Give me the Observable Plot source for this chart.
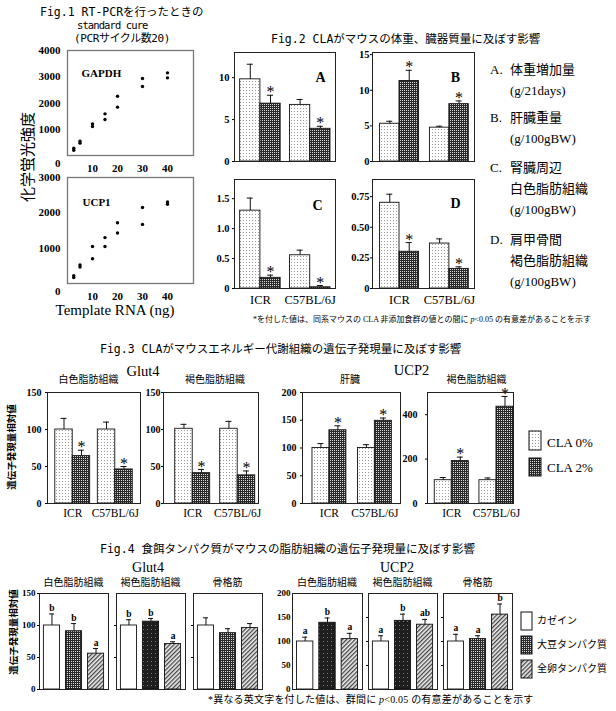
<!DOCTYPE html>
<html lang="ja">
<head>
<meta charset="utf-8">
<script src="https://cdn.jsdelivr.net/npm/d3@7"></script>
<script src="https://cdn.jsdelivr.net/npm/@observablehq/plot@0.6"></script>
<style>
html,body{margin:0;padding:0;background:#fff;}
#root{position:relative;width:616px;height:711px;overflow:hidden;background:#fff;color:#000;}
.t{position:absolute;white-space:nowrap;line-height:1;color:#000;}
</style>
</head>
<body>
<svg width="0" height="0" style="position:absolute;left:0;top:0">
<defs>
 <pattern id="pDot" width="3" height="3" patternUnits="userSpaceOnUse">
   <rect width="3" height="3" fill="#fff"/>
   <rect x="1" y="1" width="1" height="1" fill="#9a9a9a"/>
 </pattern>
 <pattern id="pCross" width="2" height="2" patternUnits="userSpaceOnUse">
   <rect width="2" height="2" fill="#2a2a2a"/>
   <rect width="1" height="1" fill="#d8d8d8"/>
 </pattern>
 <pattern id="pDark" width="4" height="4" patternUnits="userSpaceOnUse">
   <rect width="4" height="4" fill="#1e1e1e"/>
   <rect x="1" y="2" width="1" height="1" fill="#777"/>
 </pattern>
 <pattern id="pHatch" width="3" height="3" patternUnits="userSpaceOnUse" patternTransform="rotate(45)">
   <rect width="3" height="3" fill="#eee"/>
   <rect width="1.3" height="3" fill="#444"/>
 </pattern>
</defs>
</svg>
<div id="root"></div>
<script>
// ================= DATA =================
// Fig.1 standard curves
const rnaNg       = [2.5, 2.5, 5, 5, 10, 10, 15, 15, 20, 20, 30, 30, 40, 40];
const gapdhSignal = [280, 200, 546, 470, 1206, 1105, 1587, 1371, 2260, 1841, 2933, 2629, 3149, 2959];
const ucp1Signal  = [224, 168, 523, 467, 1047, 701, 1299, 1047, 1720, 1430, 2150, 1673, 2308, 2243];
const rnaTicks   = [10, 20, 30, 40];
const gapdhTicks = [1000, 2000, 3000, 4000];
const ucp1Ticks  = [1000, 2000, 3000];

// Fig.2 body / organ weights
const strains = ["ICR", "C57BL/6J"];
const gainCLA0 = [9.8, 6.75], gainCLA0Err = [1.8, 0.65], gainCLA2 = [6.9, 3.9], gainCLA2Err = [1.0, 0.3];
const liverCLA0 = [5.3, 4.75], liverCLA0Err = [0.35, 0.2], liverCLA2 = [11.3, 8.05], liverCLA2Err = [1.5, 0.45];
const renalCLA0 = [1.3, 0.555], renalCLA0Err = [0.21, 0.085], renalCLA2 = [0.178, 0.02], renalCLA2Err = [0.045, 0.03];
const scapCLA0 = [0.70, 0.367], scapCLA0Err = [0.07, 0.038], scapCLA2 = [0.30, 0.16], scapCLA2Err = [0.075, 0.017];
const gainTicks = [0, 5, 10], liverTicks = [0, 5, 10, 15], renalTicks = [0, 0.5, 1, 1.5], scapTicks = [0, 0.25, 0.5, 0.75];

// Fig.3 gene expression with CLA
const glut4WatCLA0 = [100, 100], glut4WatCLA0Err = [15, 10], glut4WatCLA2 = [64, 46], glut4WatCLA2Err = [8, 4];
const glut4BatCLA0 = [101, 101], glut4BatCLA0Err = [6, 10], glut4BatCLA2 = [41, 38], glut4BatCLA2Err = [5, 6];
const ucp2LivCLA0 = [100, 100], ucp2LivCLA0Err = [8, 6], ucp2LivCLA2 = [132, 149], ucp2LivCLA2Err = [8, 5];
const ucp2BatCLA0 = [105, 105], ucp2BatCLA0Err = [12, 10], ucp2BatCLA2 = [191, 436], ucp2BatCLA2Err = [18, 46];
const ticks150 = [0, 50, 100, 150], ticks200 = [0, 50, 100, 150, 200], ticks400 = [0, 200, 400];

// Fig.4 gene expression with dietary protein
const diets = ["カゼイン", "大豆タンパク質", "全卵タンパク質"];
const g4Wat = [100, 91, 56],  g4WatErr = [18, 12, 8],  g4WatSig = ["b", "b", "a"];
const g4Bat = [100, 106, 71], g4BatErr = [9, 5, 3.5],  g4BatSig = ["b", "b", "a"];
const g4Mus = [100, 88, 96],  g4MusErr = [12, 7, 7],   g4MusSig = ["", "", ""];
const u2Wat = [100, 139, 105], u2WatErr = [9, 10, 12], u2WatSig = ["a", "b", "a"];
const u2Bat = [100, 143, 135], u2BatErr = [12, 14, 11], u2BatSig = ["a", "b", "ab"];
const u2Mus = [100, 105, 156], u2MusErr = [15, 7, 22], u2MusSig = ["a", "a", "b"];
const fig4Ticks150 = [0, 50, 100, 150], fig4Ticks200 = [0, 50, 100, 150, 200];

// ================= HELPERS =================
const SERIF = '"Liberation Serif","Times New Roman","Noto Sans CJK JP",serif';
const MONO = '"DejaVu Sans Mono","Noto Sans CJK JP",monospace';
const root = document.getElementById("root");

function txt(html, x, y, o = {}) {
  const el = document.createElement("div");
  el.className = "t";
  el.innerHTML = html;
  const ax = o.anchor === "middle" ? "-50%" : o.anchor === "end" ? "-100%" : "0";
  el.style.left = x + "px";
  el.style.top = y + "px";
  el.style.fontFamily = o.font || SERIF;
  el.style.fontSize = (o.size || 12) + "px";
  el.style.fontWeight = o.weight || "normal";
  if (o.ls) el.style.letterSpacing = o.ls + "px";
  el.style.transform = `translate(${ax},-50%)` + (o.rotate ? ` rotate(${o.rotate}deg)` : "");
  root.appendChild(el);
}
function place(svg, left, top) {
  svg.style.position = "absolute";
  svg.style.left = left + "px";
  svg.style.top = top + "px";
  root.appendChild(svg);
}
function pstyle(size) {
  return {background: "none", overflow: "visible", fontFamily: SERIF, fontSize: size + "px", color: "#000"};
}
function fontAxes(svg, ySize, xSize, xBold) {
  const s = d3.select(svg);
  s.selectAll('[aria-label^="y-axis"] text').style("font-family", SERIF).style("font-weight", "bold").style("font-size", ySize + "px").style("fill", "#000");
  s.selectAll('[aria-label^="x-axis"] text').style("font-family", SERIF).style("font-weight", xBold ? "bold" : "normal").style("font-size", xSize + "px").style("fill", "#000");
}
function swatch(x, y, w, h, fill) {
  const s = d3.create("svg").attr("width", w + 2).attr("height", h + 2)
    .style("position", "absolute").style("left", (x - 1) + "px").style("top", (y - 1) + "px");
  s.append("rect").attr("x", 1).attr("y", 1).attr("width", w).attr("height", h)
    .attr("fill", fill).attr("stroke", "#111").attr("stroke-width", 1);
  root.appendChild(s.node());
}

// ---- Fig.1 scatter panel (tick labels drawn as text marks through the scales)
function scatter(frame, ys, yDomain, yTicks, name, nameDx, nameDy) {
  const [x0, y0, x1, y1] = frame, W = x1 - x0, H = y1 - y0;
  const ML = 40, MR = 6, MT = 6, MB = 22;
  const data = rnaNg.map((x, i) => ({x, y: ys[i]}));
  const bold = {fontWeight: "bold", fontSize: 11, fontFamily: SERIF, fill: "#000"};
  const svg = Plot.plot({
    width: ML + W + MR, height: MT + H + MB,
    marginLeft: ML, marginRight: MR, marginTop: MT, marginBottom: MB,
    style: pstyle(11),
    x: {domain: [0, 50.4], axis: null},
    y: {domain: yDomain, axis: null},
    marks: [
      Plot.frame({stroke: "#777", strokeWidth: 1.3}),
      Plot.dot(data, {x: "x", y: "y", r: 1.7, fill: "#000", stroke: "none"}),
      Plot.text(yTicks, {x: () => 0, y: d => d, text: d => String(d), textAnchor: "end", dx: -7, ...bold}),
      Plot.text(rnaTicks, {x: d => d, y: () => yDomain[0], text: d => String(d), dy: 13, ...bold}),
      Plot.text(["0"], {x: () => 0, y: () => yDomain[0], text: d => d, textAnchor: "end", dx: -7, dy: 8, ...bold}),
      Plot.text([name], {frameAnchor: "top-left", text: d => d, textAnchor: "start", dx: nameDx, dy: nameDy, ...bold})
    ]
  });
  place(svg, x0 - ML, y0 - MT);
}

// ---- Fig.2 / Fig.3 panel: two strains x (CLA 0%, CLA 2%)
function claPanel(o) {
  const [x0, y0, x1, y1] = o.frame, W = x1 - x0, H = y1 - y0;
  const ML = 34, MR = 6, MT = 14, MB = 22;
  const [p, q, al] = o.pad;
  const rows = strains.map((s, i) => ({s, v0: o.v0[i], e0: o.e0[i], v2: o.v2[i], e2: o.e2[i]}));
  const bw = d3.scaleBand().domain(strains).range([0, W]).paddingInner(p).paddingOuter(q).align(al).bandwidth();
  const hb = bw / 2, cap = 3;
  const marks = [
    Plot.barY(rows, {x: "s", y: "v0", fill: "url(#pDot)", stroke: "#111", strokeWidth: 0.9, insetRight: hb}),
    Plot.barY(rows, {x: "s", y: "v2", fill: "url(#pCross)", stroke: "#111", strokeWidth: 0.9, insetLeft: hb}),
    Plot.ruleX(rows, {x: "s", y1: "v0", y2: d => d.v0 + d.e0, dx: -hb / 2, stroke: "#111"}),
    Plot.ruleX(rows, {x: "s", y1: "v2", y2: d => d.v2 + d.e2, dx: hb / 2, stroke: "#111"}),
    Plot.tickY(rows, {x: "s", y: d => d.v0 + d.e0, insetLeft: hb / 2 - cap, insetRight: bw - hb / 2 - cap, stroke: "#111"}),
    Plot.tickY(rows, {x: "s", y: d => d.v2 + d.e2, insetLeft: hb + hb / 2 - cap, insetRight: hb / 2 - cap, stroke: "#111"}),
    Plot.text(rows, {x: "s", y: d => d.v2 + d.e2, text: () => "*", dx: hb / 2, dy: o.starDy ?? -3, fontSize: 16, fontFamily: SERIF}),
    Plot.frame({stroke: "#222"})
  ];
  if (o.letter) marks.push(Plot.text([o.letter], {frameAnchor: "top-right", text: d => d, textAnchor: "middle",
    dx: o.letterDx, dy: o.letterDy, fontSize: 14, fontWeight: "bold", fontFamily: SERIF}));
  const svg = Plot.plot({
    width: ML + W + MR, height: MT + H + MB,
    marginLeft: ML, marginRight: MR, marginTop: MT, marginBottom: MB,
    style: pstyle(11),
    x: {domain: strains, paddingInner: p, paddingOuter: q, align: al, round: false,
        axis: o.showX ? "bottom" : null, tickSize: 0, tickPadding: o.xPad ?? 6, label: null},
    y: {domain: o.yDomain, ticks: o.yTicks, tickFormat: o.yFmt || (d => String(d)),
        tickSize: 2, tickPadding: o.yPad ?? 3, label: null},
    marks
  });
  fontAxes(svg, o.ySize || 10.5, o.xSize || 12.5, false);
  place(svg, x0 - ML, y0 - MT);
}

// ---- Fig.4 panel: three diets
function dietPanel(frame, yDomain, yTicks, showLabels, values, errs, sig, soyFill, tickSize) {
  const [x0, y0, x1, y1] = frame, W = x1 - x0, H = y1 - y0;
  const ML = 30, MR = 4, MT = 14, MB = 4;
  const p = 0.267, q = 0.2;
  const rows = diets.map((d, i) => ({d, v: values[i], e: errs[i], l: sig[i]}));
  const bw = d3.scaleBand().domain(diets).range([0, W]).paddingInner(p).paddingOuter(q).bandwidth();
  const svg = Plot.plot({
    width: ML + W + MR, height: MT + H + MB,
    marginLeft: ML, marginRight: MR, marginTop: MT, marginBottom: MB,
    style: pstyle(9),
    x: {domain: diets, paddingInner: p, paddingOuter: q, round: false, axis: null},
    y: {domain: yDomain, ticks: yTicks, tickSize: tickSize, tickPadding: 2,
        tickFormat: showLabels ? (d => String(d)) : (() => ""), label: null},
    color: {type: "ordinal", domain: diets, range: ["#ffffff", soyFill, "url(#pHatch)"]},
    marks: [
      Plot.barY(rows, {x: "d", y: "v", fill: "d", stroke: "#111", strokeWidth: 0.9}),
      Plot.ruleX(rows, {x: "d", y1: "v", y2: r => r.v + r.e, stroke: "#111"}),
      Plot.tickY(rows, {x: "d", y: r => r.v + r.e, insetLeft: bw / 2 - 2.5, insetRight: bw / 2 - 2.5, stroke: "#111"}),
      Plot.text(rows, {x: "d", y: r => r.v + r.e, text: "l", dy: -6, fontSize: 9.5, fontWeight: "bold", fontFamily: SERIF}),
      Plot.frame({stroke: "#222"})
    ]
  });
  fontAxes(svg, 9, 9, false);
  place(svg, x0 - ML, y0 - MT);
}

// ================= FIG.1 =================
txt("Fig.1 RT-PCRを行ったときの", 40, 12.5, {font: MONO, size: 11.5});
txt("standard cure", 77, 25, {font: MONO, size: 10.5, ls: -0.9});
txt("(PCRサイクル数20)", 74, 38, {font: MONO, size: 11, ls: -0.4});
scatter([67, 50, 193, 155], gapdhSignal, [0, 4000], gapdhTicks, "GAPDH", 14, 19);
scatter([67, 177, 193, 283], ucp1Signal, [0, 3000], ucp1Ticks, "UCP1", 15, 21);
txt("化学蛍光強度", 28, 157, {size: 15, anchor: "middle", rotate: -90});
txt("Template RNA (ng)", 115, 310, {size: 15, anchor: "middle"});

// ================= FIG.2 =================
txt("Fig.2 CLAがマウスの体重、臓器質量に及ぼす影響", 271, 40, {font: MONO, size: 11.5});
const f2padA = [0.187, 0.107, 0.53], f2padB = [0.22, 0.133, 0.57];
claPanel({frame: [234, 52, 335, 161], yDomain: [0, 13], yTicks: gainTicks, v0: gainCLA0, e0: gainCLA0Err, v2: gainCLA2, e2: gainCLA2Err,
  pad: f2padA, letter: "A", letterDx: -15, letterDy: 20, yPad: 3});
claPanel({frame: [372, 52, 474, 161], yDomain: [0, 15.3], yTicks: liverTicks, v0: liverCLA0, e0: liverCLA0Err, v2: liverCLA2, e2: liverCLA2Err,
  pad: f2padB, letter: "B", letterDx: -19, letterDy: 20, yPad: 1});
claPanel({frame: [234, 179, 335, 288], yDomain: [0, 1.82], yTicks: renalTicks, yFmt: d => d === 0 ? "0" : d.toFixed(1),
  v0: renalCLA0, e0: renalCLA0Err, v2: renalCLA2, e2: renalCLA2Err,
  pad: f2padA, letter: "C", letterDx: -18, letterDy: 21, showX: true, xPad: 6.5, yPad: 3});
claPanel({frame: [372, 179, 474, 288], yDomain: [0, 0.89], yTicks: scapTicks, yFmt: d => d === 0 ? "0" : d.toFixed(2),
  v0: scapCLA0, e0: scapCLA0Err, v2: scapCLA2, e2: scapCLA2Err,
  pad: f2padB, letter: "D", letterDx: -19, letterDy: 19, showX: true, xPad: 6.5, yPad: 1});

const f2leg = [
  ["A.", "体重増加量", 69], [null, "(g/21days)", 90],
  ["B.", "肝臓重量", 117], [null, "(g/100gBW)", 138],
  ["C.", "腎臓周辺", 167], [null, "白色脂肪組織", 188], [null, "(g/100gBW)", 209],
  ["D.", "肩甲骨間", 239], [null, "褐色脂肪組織", 260], [null, "(g/100gBW)", 281]
];
for (const [k, s, y] of f2leg) {
  if (k) txt(k, 490, y, {size: 13});
  txt(s, 510, y, {size: 13});
}
txt("*を付した値は、同系マウスの CLA 非添加食群の値との間に <i>p</i>&lt;0.05 の有意差があることを示す", 253, 320, {size: 8});

// ================= FIG.3 =================
txt("Fig.3 CLAがマウスエネルギー代謝組織の遺伝子発現量に及ぼす影響", 100, 350, {font: MONO, size: 11.5});
txt("Glut4", 143, 371, {size: 14.5, anchor: "middle"});
txt("UCP2", 411.5, 370, {size: 14.5, anchor: "middle"});
txt("白色脂肪組織", 88.5, 380, {size: 10, anchor: "middle"});
txt("褐色脂肪組織", 215, 380, {size: 10, anchor: "middle"});
txt("肝臓", 350, 380, {size: 10, anchor: "middle"});
txt("褐色脂肪組織", 476.5, 380, {size: 10, anchor: "middle"});
txt("遺伝子発現量相対値", 13, 447, {size: 9.5, anchor: "middle", rotate: -90, weight: "bold"});

claPanel({frame: [47, 392, 140, 503], yDomain: [0, 150], yTicks: ticks150, v0: glut4WatCLA0, e0: glut4WatCLA0Err, v2: glut4WatCLA2, e2: glut4WatCLA2Err,
  pad: [0.18, 0.183, 0.5], showX: true, xPad: 5.5, xSize: 11.5, ySize: 10, yPad: 4});
claPanel({frame: [163, 392, 258, 503], yDomain: [0, 150], yTicks: ticks150, v0: glut4BatCLA0, e0: glut4BatCLA0Err, v2: glut4BatCLA2, e2: glut4BatCLA2Err,
  pad: [0.222, 0.167, 0.78], showX: true, xPad: 5.5, xSize: 11.5, ySize: 10, yPad: 1});
claPanel({frame: [302, 392, 400, 503], yDomain: [0, 200], yTicks: ticks200, v0: ucp2LivCLA0, e0: ucp2LivCLA0Err, v2: ucp2LivCLA2, e2: ucp2LivCLA2Err,
  pad: [0.254, 0.205, 0.535], showX: true, xPad: 5.5, xSize: 11.5, ySize: 10, yPad: 4});
claPanel({frame: [427, 392, 513, 503], yDomain: [0, 500], yTicks: ticks400, v0: ucp2BatCLA0, e0: ucp2BatCLA0Err, v2: ucp2BatCLA2, e2: ucp2BatCLA2Err,
  pad: [0.238, 0.081, 1], showX: true, xPad: 5.5, xSize: 11.5, ySize: 10, yPad: 8});

swatch(529, 431, 12, 19, "url(#pDot)");
swatch(529, 458, 12, 18, "url(#pCross)");
txt("CLA 0%", 547, 441.5, {size: 13});
txt("CLA 2%", 547, 466.5, {size: 13});

// ================= FIG.4 =================
txt("Fig.4 食餌タンパク質がマウスの脂肪組織の遺伝子発現量に及ぼす影響", 100, 550, {font: MONO, size: 11.5});
txt("Glut4", 148, 568, {size: 14, anchor: "middle"});
txt("UCP2", 397, 568, {size: 14, anchor: "middle"});
const f4frames = [[39, 593, 108, 689], [116, 593, 185, 689], [193, 593, 262, 689],
                  [292, 593, 362, 689], [368, 593, 437, 689], [443, 593, 512, 689]];
const f4titles = ["白色脂肪組織", "褐色脂肪組織", "骨格筋", "白色脂肪組織", "褐色脂肪組織", "骨格筋"];
f4frames.forEach((f, i) => txt(f4titles[i], (f[0] + f[2]) / 2, 583, {size: 10, anchor: "middle"}));
txt("遺伝子発現量相対値", 15, 632, {size: 9.5, anchor: "middle", rotate: -90, weight: "bold"});

dietPanel(f4frames[0], [0, 150], fig4Ticks150, true, g4Wat, g4WatErr, g4WatSig, "url(#pCross)", 2);
dietPanel(f4frames[1], [0, 150], [50, 100], false, g4Bat, g4BatErr, g4BatSig, "url(#pDark)", 2);
dietPanel(f4frames[2], [0, 150], [50, 100], false, g4Mus, g4MusErr, g4MusSig, "url(#pCross)", 2);
dietPanel(f4frames[3], [0, 200], fig4Ticks200, true, u2Wat, u2WatErr, u2WatSig, "url(#pDark)", 0);
dietPanel(f4frames[4], [0, 200], [50, 100, 150], false, u2Bat, u2BatErr, u2BatSig, "url(#pDark)", 2);
dietPanel(f4frames[5], [0, 200], [50, 100, 150], false, u2Mus, u2MusErr, u2MusSig, "url(#pCross)", 2);

swatch(521, 612, 11, 18, "#ffffff");
swatch(521, 636, 11, 18, "url(#pCross)");
swatch(521, 660, 11, 18, "url(#pHatch)");
txt("カゼイン", 537, 621, {size: 10});
txt("大豆タンパク質", 537, 645, {size: 10});
txt("全卵タンパク質", 537, 669, {size: 10});
txt("*異なる英文字を付した値は、群間に <i>p</i>&lt;0.05 の有意差があることを示す", 208, 700, {size: 10, ls: 0.2});
</script>
</body>
</html>
